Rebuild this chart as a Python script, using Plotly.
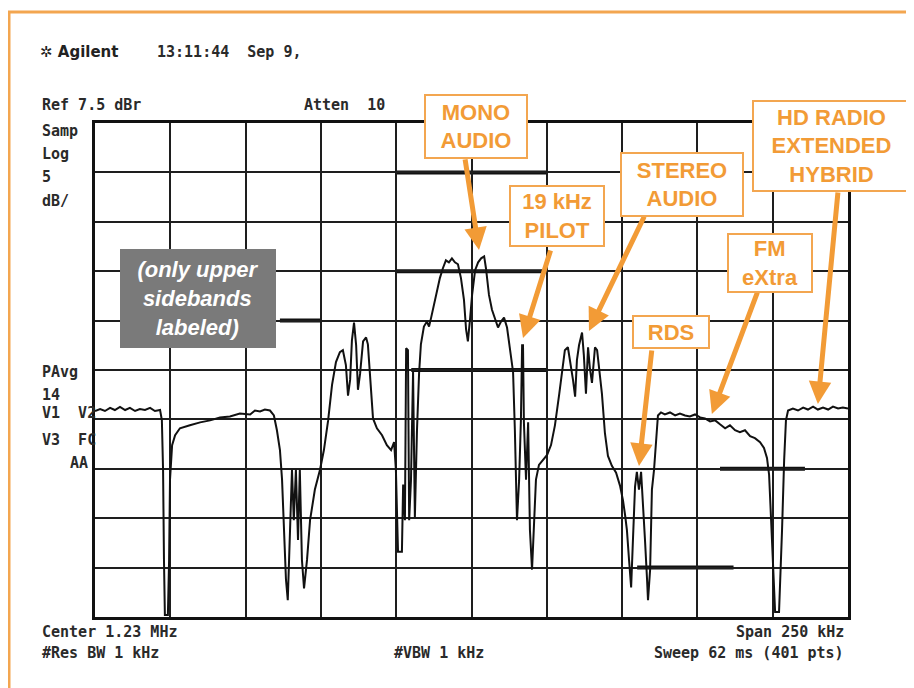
import plotly.graph_objects as go

# ---- data: spectrum trace (frequency offset from center, kHz; level, dB) ----
freq_khz = [
    -125.0, -123.3, -121.7, -120.0, -118.4, -116.7, -115.0, -113.4, -111.7, -110.1,
    -108.4, -106.7, -105.1, -103.4, -102.8, -102.4, -102.1, -101.8, -100.8, -100.4,
    -100.1, -99.4, -98.4, -96.8, -93.5, -90.1, -86.8, -83.5, -80.2, -76.9,
    -73.5, -71.9, -70.2, -68.6, -66.9, -65.6, -64.6, -63.6, -62.9, -62.3,
    -61.6, -61.0, -60.3, -59.6, -59.0, -58.3, -57.6, -57.0, -56.3, -55.6,
    -54.6, -53.6, -52.0, -50.3, -49.0, -47.6, -46.3, -45.0, -43.7, -42.7,
    -41.7, -41.0, -40.3, -39.7, -39.0, -38.3, -37.7, -37.0, -36.0, -35.0,
    -34.4, -33.7, -32.7, -31.4, -29.7, -28.1, -26.7, -25.7, -25.1, -24.4,
    -23.1, -22.7, -22.1, -21.7, -21.1, -20.7, -20.1, -19.4, -19.1, -18.8,
    -18.1, -17.4, -16.8, -15.8, -14.8, -14.1, -13.4, -12.5, -11.5, -10.5,
    -9.5, -8.5, -7.5, -6.5, -5.5, -4.5, -3.5, -2.5, -1.8, -1.2,
    -0.5, 0.2, 1.2, 2.2, 3.2, 4.2, 4.8, 5.8, 6.8, 7.8,
    8.8, 9.8, 10.8, 11.8, 12.8, 13.8, 14.4, 15.1, 15.8, 16.4,
    16.8, 17.1, 17.4, 18.1, 18.8, 19.4, 20.1, 20.7, 21.4, 22.4,
    23.7, 25.1, 26.4, 27.7, 29.1, 30.0, 31.0, 32.0, 33.0, 33.7,
    34.4, 35.0, 35.7, 36.7, 37.3, 38.0, 38.7, 39.3, 40.0, 41.0,
    41.7, 42.3, 43.3, 44.3, 45.3, 46.6, 48.0, 49.3, 50.3, 51.0,
    51.6, 52.3, 53.0, 53.6, 54.3, 54.9, 55.6, 56.3, 56.9, 57.6,
    58.3, 58.6, 59.3, 59.9, 60.6, 61.3, 61.9, 62.9, 64.2, 65.9,
    67.6, 69.2, 70.9, 72.5, 74.2, 75.9, 77.5, 79.2, 80.9, 82.5,
    84.2, 85.8, 87.5, 89.1, 90.8, 92.5, 94.1, 95.8, 97.1, 98.1,
    98.8, 99.4, 100.1, 100.8, 102.1, 102.8, 103.1, 103.8, 104.4, 105.1,
    106.7, 108.4, 110.1, 111.7, 113.4, 115.0, 116.7, 118.4, 120.0, 121.7,
    123.3, 125.0,
]
level_db = [
    -21.65, -21.45, -21.65, -21.34, -21.55, -21.24, -21.55, -21.34, -21.65, -21.45,
    -21.55, -21.34, -21.65, -21.55, -22.56, -27.6, -36.7, -42.3, -42.3, -36.7,
    -28.6, -25.1, -24.1, -23.4, -23.1, -22.8, -22.6, -22.3, -22.2, -21.9,
    -22.0, -21.6, -21.7, -21.5, -21.6, -22.1, -23.6, -25.6, -28.6, -33.7,
    -38.7, -40.8, -34.7, -27.6, -32.7, -27.6, -34.7, -27.6, -36.7, -39.6,
    -36.7, -32.7, -29.6, -27.6, -25.6, -22.6, -19.0, -16.7, -15.7, -15.5,
    -17.0, -20.1, -18.5, -14.5, -12.7, -15.0, -19.5, -17.9, -14.6, -14.2,
    -14.9, -18.0, -22.4, -23.4, -24.1, -25.1, -25.6, -24.8, -27.6, -35.9,
    -35.9, -29.1, -32.7, -15.3, -15.5, -32.7, -28.7, -17.7, -23.6, -32.4,
    -23.6, -17.8, -14.9, -13.1, -12.6, -13.1, -12.2, -10.9, -9.7, -8.2,
    -7.2, -6.4, -6.6, -6.2, -6.6, -6.8, -8.2, -10.4, -13.4, -14.6,
    -12.4, -9.9, -7.4, -6.6, -6.2, -6.0, -7.2, -9.9, -11.4, -12.2,
    -13.2, -12.6, -12.2, -13.2, -15.5, -17.7, -23.6, -32.7, -28.7, -22.6,
    -15.0, -15.0, -22.8, -28.6, -22.8, -33.7, -37.7, -32.7, -28.6, -27.1,
    -26.6, -26.1, -25.1, -23.1, -20.0, -17.7, -15.5, -15.2, -16.9, -18.5,
    -20.2, -16.5, -15.0, -13.7, -16.0, -19.9, -15.2, -17.3, -18.8, -15.2,
    -15.5, -17.2, -19.9, -23.9, -26.2, -27.2, -27.9, -29.2, -30.7, -32.2,
    -33.7, -36.7, -39.5, -34.7, -29.3, -27.8, -29.6, -27.8, -30.7, -34.7,
    -38.8, -40.8, -37.7, -29.6, -27.6, -24.8, -22.1, -21.8, -22.0, -21.8,
    -22.1, -21.9, -22.1, -22.2, -22.0, -22.3, -22.4, -22.7, -22.6, -23.0,
    -23.4, -23.1, -23.6, -23.8, -23.6, -24.2, -24.4, -24.8, -25.4, -26.4,
    -28.1, -32.2, -37.2, -42.0, -42.0, -36.7, -33.7, -26.6, -22.6, -21.6,
    -21.4, -21.6, -21.3, -21.5, -21.2, -21.5, -21.3, -21.5, -21.2, -21.4,
    -21.3, -21.4,
]

# ---- labels ----
callout_texts = ["MONO<br>AUDIO", "19 kHz<br>PILOT", "STEREO<br>AUDIO",
                 "HD RADIO<br>EXTENDED<br>HYBRID", "FM<br>eXtra", "RDS"]
callout_center_khz = [1.5, 28.4, 69.9, 119.5, 99.1, 66.2]
callout_center_db = [7.15, -1.91, 1.28, 5.17, -6.67, -13.65]
callout_w = [100, 92, 120, 155, 82, 74]
callout_h = [61, 58, 61, 88, 56, 30]
arrow_tip_khz = [2.5, 17.1, 39.0, 115.0, 79.8, 55.6]
arrow_tip_db = [-5.35, -14.26, -13.55, -20.94, -21.95, -27.21]
arrow_tail_khz = [-2.2, 26.4, 57.6, 121.7, 95.1, 59.9]
arrow_tail_db = [3.96, -5.25, -1.81, 0.62, -9.5, -15.37]

note_text = "(only upper<br>sidebands<br>labeled)"
note_khz, note_db = -90.8, -10.26

# instrument annotation texts: (text, page x, page y, anchor)
inst_texts = [
    ("Ref 7.5 dBr", 40, 105, "left"),
    ("Atten  10", 302, 105, "left"),
    ("Samp", 40, 131, "left"),
    ("Log", 40, 154, "left"),
    ("5", 40, 177, "left"),
    ("dB/", 40, 201, "left"),
    ("PAvg", 40, 372, "left"),
    ("14", 40, 395, "left"),
    ("V1  V2", 40, 413, "left"),
    ("V3  FC", 40, 440, "left"),
    ("AA", 68, 463, "left"),
    ("Center 1.23 MHz", 40, 632, "left"),
    ("#Res BW 1 kHz", 40, 653, "left"),
    ("#VBW 1 kHz", 392, 653, "left"),
    ("Span 250 kHz", 846, 632, "right"),
    ("Sweep 62 ms (401 pts)", 846, 653, "right"),
    ("13:11:44  Sep 9,", 155, 52, "left"),
]

ORANGE = "#F29B36"
ORANGE_LINE = "#F3A650"

# page has an 8px body margin; figure drawn from page (8, 8)
OFF = 8
W, H = 906, 680
PL, PR, PT, PB = 95, 848, 123, 617          # plot box in page pixels
L, T = PL - OFF, PT - OFF
R, B = W - (PR - OFF), H - (PB - OFF)
PW, PH = PR - PL, PB - PT


def px(xp):
    return (xp - PL) / PW


def py(yp):
    return (PB - yp) / PH


fig = go.Figure()
fig.add_trace(go.Scatter(x=freq_khz, y=level_db, mode="lines",
                         line=dict(color="#111111", width=2),
                         hoverinfo="skip", showlegend=False))

fig.update_layout(
    width=W, height=H,
    margin=dict(l=L, r=R, t=T, b=B),
    paper_bgcolor="white", plot_bgcolor="white",
    showlegend=False,
    xaxis=dict(range=[-125, 125], tick0=-125, dtick=25, showticklabels=False,
               ticks="", showgrid=True, gridcolor="#1e1e1e", gridwidth=2,
               zeroline=False, showline=True, mirror=True,
               linecolor="#111111", linewidth=3, fixedrange=True),
    yaxis=dict(range=[-42.5, 7.5], tick0=7.5, dtick=5, showticklabels=False,
               ticks="", showgrid=True, gridcolor="#1e1e1e", gridwidth=2,
               zeroline=False, showline=True, mirror=True,
               linecolor="#111111", linewidth=3, fixedrange=True),
)

# bold graticule segments (display lines)
bold_segments = [(-25, 25, 2.5), (-25, 25, -7.5), (-20, 25, -17.5),
                 (-63.6, -50, -12.5), (82.5, 110.7, -27.5), (55, 87, -37.5)]
for x0, x1, yv in bold_segments:
    fig.add_shape(type="line", x0=x0, x1=x1, y0=yv, y1=yv, xref="x", yref="y",
                  line=dict(color="#111111", width=4), layer="below")

# orange frame (top and left)
fig.add_shape(type="line", xref="paper", yref="paper", x0=px(8), x1=px(914),
              y0=py(12), y1=py(12), line=dict(color=ORANGE_LINE, width=3))
fig.add_shape(type="line", xref="paper", yref="paper", x0=px(9), x1=px(9),
              y0=py(12), y1=py(690), line=dict(color=ORANGE_LINE, width=3))

# header logo
fig.add_annotation(text="<b>✲ Agilent</b>", xref="paper", yref="paper",
                   x=px(38), y=py(52), xanchor="left", yanchor="middle",
                   showarrow=False,
                   font=dict(family="DejaVu Sans", size=15, color="#222222"))

for txt, xp, yp, anc in inst_texts:
    fig.add_annotation(text="<b>" + txt + "</b>", xref="paper", yref="paper",
                       x=px(xp), y=py(yp),
                       xanchor=anc, yanchor="middle", showarrow=False,
                       font=dict(family="DejaVu Sans Mono", size=15, color="#2a2a2a"))

# arrows
for i in range(len(callout_texts)):
    fig.add_annotation(x=arrow_tip_khz[i], y=arrow_tip_db[i],
                       ax=arrow_tail_khz[i], ay=arrow_tail_db[i],
                       xref="x", yref="y", axref="x", ayref="y",
                       text="", showarrow=True, arrowhead=2, arrowsize=0.9,
                       arrowwidth=5, arrowcolor=ORANGE, standoff=0)

# callout boxes
for i, txt in enumerate(callout_texts):
    fig.add_annotation(x=callout_center_khz[i], y=callout_center_db[i],
                       xref="x", yref="y", xanchor="center", yanchor="middle",
                       text="<b>" + txt + "</b>", showarrow=False,
                       width=callout_w[i], height=callout_h[i],
                       align="center", valign="middle",
                       bgcolor="white", bordercolor=ORANGE_LINE, borderwidth=2,
                       borderpad=0,
                       font=dict(family="Liberation Sans, Arial", size=22, color=ORANGE))

fig.add_annotation(x=note_khz, y=note_db, xref="x", yref="y",
                   xanchor="center", yanchor="middle",
                   text="<b><i>" + note_text + "</i></b>", showarrow=False,
                   width=154, height=97, align="center", valign="middle",
                   bgcolor="#7a7a7a", bordercolor="#7a7a7a", borderwidth=1,
                   borderpad=0,
                   font=dict(family="Liberation Sans, Arial", size=22, color="white"))

fig.write_html("out.html")
